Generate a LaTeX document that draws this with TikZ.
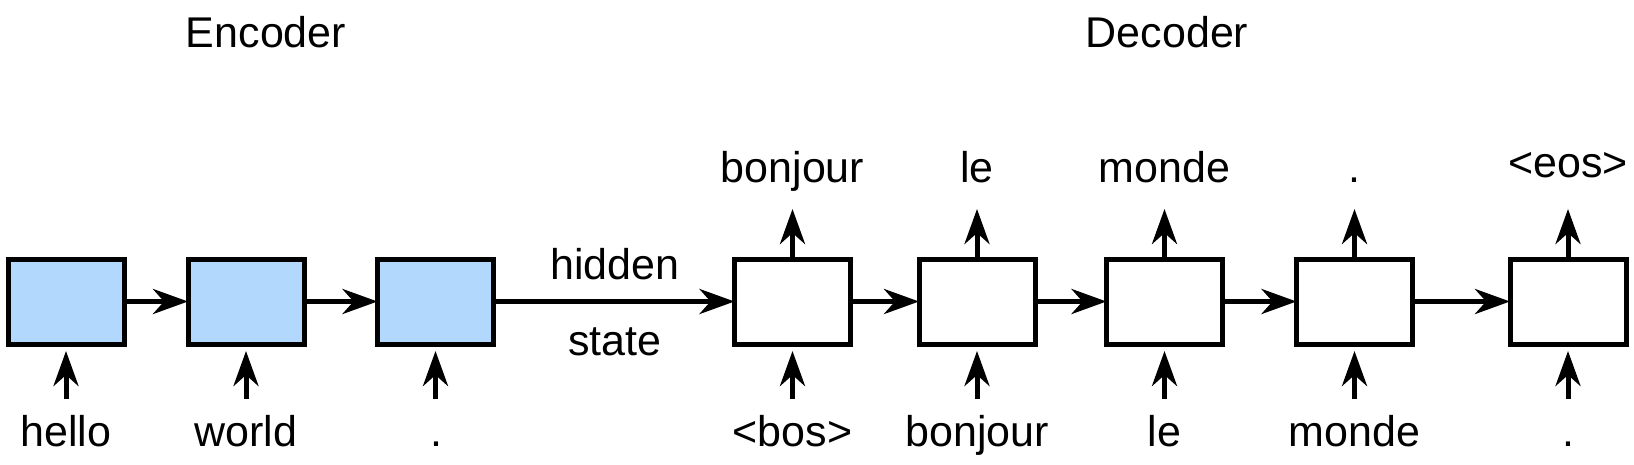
\documentclass[tikz,border=0pt]{standalone}
\usepackage{fontspec}
\setmainfont{Liberation Sans}
\usetikzlibrary{arrows.meta}
\definecolor{encblue}{RGB}{179,216,254}
\begin{document}
\begin{tikzpicture}[x=1pt,y=-1pt,
  cell/.style={draw=black, line width=5pt, minimum width=116pt, minimum height=85pt, inner sep=0pt, outer sep=0pt},
  enc/.style={cell, fill=encblue},
  dec/.style={cell, fill=white},
  word/.style={anchor=base, inner sep=0pt, font=\fontsize{43}{50}\selectfont},
  conn/.style={line width=5pt, arrows={-Stealth[length=35pt,width=25pt,inset=11pt]}}
]
\useasboundingbox (0,0) rectangle (1634,464);
% titles
\node[word] (tenc) at (266,47) {Encoder};
\node[word] (tdec) at (1167,47) {Decoder};
% boxes
\node[enc] (b1) at (66,301.5) {};
\node[enc] (b2) at (246,301.5) {};
\node[enc] (b3) at (435.5,301.5) {};
\node[dec] (b4) at (792.5,301.5) {};
\node[dec] (b5) at (977,301.5) {};
\node[dec] (b6) at (1164.5,301.5) {};
\node[dec] (b7) at (1354.5,301.5) {};
\node[dec] (b8) at (1568,301.5) {};
% horizontal connectors
\draw[conn] (b1.east) -- (b2.west);
\draw[conn] (b2.east) -- (b3.west);
\draw[conn] (b3.east) -- (b4.west);
\draw[conn] (b4.east) -- (b5.west);
\draw[conn] (b5.east) -- (b6.west);
\draw[conn] (b6.east) -- (b7.west);
\draw[conn] (b7.east) -- (b8.west);
\node[word] (hid) at (615,279) {hidden};
\node[word] (st) at (615,355) {state};
% bottom inputs
\node[word] (i1) at (66,446) {hello};
\node[word] (i2) at (246,446) {world};
\node[word] (i3) at (436,446) {.};
\node[word] (i4) at (792.5,446) {<bos>};
\node[word] (i5) at (977,446) {bonjour};
\node[word] (i6) at (1164.5,446) {le};
\node[word] (i7) at (1354.5,446) {monde};
\node[word] (i8) at (1568,446) {.};
\foreach \n in {1,...,8}{
  \coordinate (s\n) at (b\n.south |- 0,399);
  \coordinate (e\n) at (b\n.south |- 0,351);
  \draw[conn] (s\n) -- (e\n);
}
% top outputs
\node[word] (o4) at (792.5,182) {bonjour};
\node[word] (o5) at (977,182) {le};
\node[word] (o6) at (1164.5,182) {monde};
\node[word] (o7) at (1354.5,182) {.};
\node[word] (o8) at (1568,177) {<eos>};
\foreach \n in {4,...,8}{
  \coordinate (t\n) at (b\n.north |- 0,209);
  \draw[conn] (b\n.north) -- (t\n);
}
\end{tikzpicture}
\end{document}
